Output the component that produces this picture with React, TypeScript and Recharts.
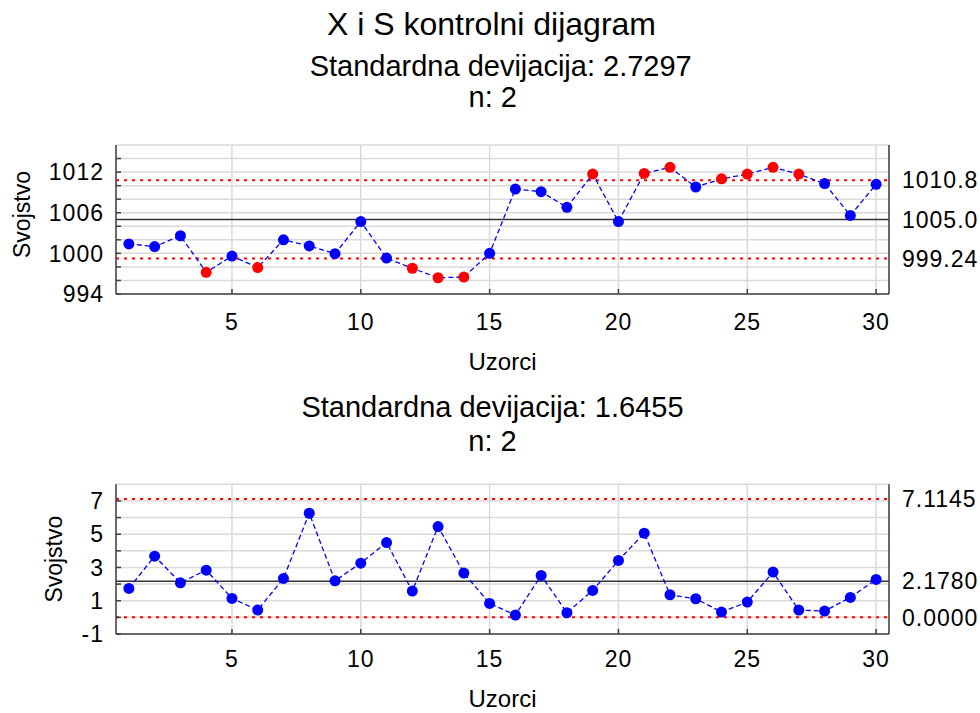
import React from 'react';
import { ComposedChart, Line, XAxis, YAxis, CartesianGrid, ReferenceLine } from 'recharts';

const FONT = '"Liberation Sans", Arial, Helvetica, sans-serif';

// sample numbers on the x axis
const samples = [
  1, 2, 3, 4, 5, 6, 7, 8, 9, 10, 11, 12, 13, 14, 15,
  16, 17, 18, 19, 20, 21, 22, 23, 24, 25, 26, 27, 28, 29, 30,
];

// sample means (X chart)
const xbarValues = [
  1001.4, 1001.0, 1002.6, 997.2, 999.6, 997.9, 1002.0, 1001.1, 999.95, 1004.7,
  999.3, 997.8, 996.4, 996.5, 1000.0, 1009.5, 1009.1, 1006.8, 1011.7, 1004.7,
  1011.8, 1012.7, 1009.8, 1011.0, 1011.7, 1012.7, 1011.7, 1010.3, 1005.6, 1010.2,
];

// sample standard deviations (S chart)
const sValues = [
  1.74, 3.68, 2.08, 2.84, 1.14, 0.44, 2.34, 6.26, 2.2, 3.26,
  4.5, 1.58, 5.46, 2.66, 0.84, 0.14, 2.52, 0.28, 1.62, 3.42,
  5.06, 1.36, 1.12, 0.32, 0.92, 2.72, 0.44, 0.38, 1.2, 2.28,
];

const xbarLimits = { lcl: 999.24, cl: 1005.0, ucl: 1010.8 };
const xbarLimitLabels = { lcl: '999.24', cl: '1005.0', ucl: '1010.8' };
const sLimits = { lcl: 0, cl: 2.178, ucl: 7.1145 };
const sLimitLabels = { lcl: '0.0000', cl: '2.1780', ucl: '7.1145' };

const xTicks = [5, 10, 15, 20, 25, 30];
const xbarGridTicks = [994, 996, 998, 1000, 1002, 1004, 1006, 1008, 1010, 1012, 1014];
const xbarLabelTicks = [994, 1000, 1006, 1012];
const sGridTicks = [-1, 0, 1, 2, 3, 4, 5, 6, 7];
const sLabelTicks = [-1, 1, 3, 5, 7];

const FRAME = { stroke: '#404040', strokeWidth: 1.5 };
const TICK = { fill: '#000', fontSize: 23, style: { letterSpacing: '1px' } };

interface Limits {
  lcl: number;
  cl: number;
  ucl: number;
}

interface LimitLabels {
  lcl: string;
  cl: string;
  ucl: string;
}

interface ControlChartProps {
  values: number[];
  domain: [number, number];
  gridTicks: number[];
  labelTicks: number[];
  limits: Limits;
  limitLabels: LimitLabels;
  height: number;
  top: number;
  xAxisHeight: number;
  xTickMargin: number;
  xLabelOffset: number;
  yLabelOffset: number;
  yLabelDy: number;
}

// value of a control line written just right of the plot frame
const limitLabel = (value: string) => ({
  value,
  position: 'right' as const,
  offset: 13,
  style: { fontSize: 23, fill: '#000', letterSpacing: '1px' },
});

function ControlChart({
  values,
  domain,
  gridTicks,
  labelTicks,
  limits,
  limitLabels,
  height,
  top,
  xAxisHeight,
  xTickMargin,
  xLabelOffset,
  yLabelOffset,
  yLabelDy,
}: ControlChartProps) {
  const data = samples.map((s, i) => ({ sample: s, value: values[i] }));

  // points outside the control limits are drawn red
  const renderDot = (props: any) => {
    const { cx, cy, value, index } = props;
    const out = value > limits.ucl || value < limits.lcl;
    return <circle key={`dot-${index}`} cx={cx} cy={cy} r={5.5} fill={out ? '#ff0000' : '#0000ff'} />;
  };

  return (
    <ComposedChart
      width={980}
      height={height}
      data={data}
      margin={{ top, right: 0, bottom: 0, left: 0 }}
    >
      <CartesianGrid stroke="#dadada" strokeWidth={1.5} />

      <XAxis
        dataKey="sample"
        type="number"
        domain={[0.5, 30.5]}
        ticks={xTicks}
        interval={0}
        height={xAxisHeight}
        tick={TICK}
        tickSize={-5}
        tickMargin={xTickMargin}
        tickLine={FRAME}
        axisLine={FRAME}
        label={{
          value: 'Uzorci',
          position: 'insideBottom',
          offset: xLabelOffset,
          style: { fontSize: 24, fill: '#000' },
        }}
      />
      <XAxis
        xAxisId="top"
        orientation="top"
        type="number"
        domain={[0.5, 30.5]}
        ticks={xTicks}
        interval={0}
        height={0}
        tickFormatter={() => ''}
        tickSize={-5}
        tickLine={FRAME}
        axisLine={FRAME}
      />
      <YAxis
        type="number"
        domain={domain}
        ticks={gridTicks}
        interval={0}
        width={116}
        tick={TICK}
        tickFormatter={(v: number) => (labelTicks.includes(v) ? String(v) : '')}
        tickSize={-5}
        tickMargin={17}
        tickLine={FRAME}
        axisLine={FRAME}
        label={{
          value: 'Svojstvo',
          angle: -90,
          position: 'insideLeft',
          offset: yLabelOffset,
          dy: yLabelDy,
          style: { textAnchor: 'middle', fontSize: 23, fill: '#000' },
        }}
      />
      <YAxis
        yAxisId="right"
        orientation="right"
        type="number"
        domain={domain}
        width={91}
        tick={false}
        tickLine={false}
        axisLine={FRAME}
      />

      <ReferenceLine
        y={limits.ucl}
        stroke="#ff0000"
        strokeWidth={2}
        strokeDasharray="3 5"
        label={limitLabel(limitLabels.ucl)}
      />
      <ReferenceLine
        y={limits.lcl}
        stroke="#ff0000"
        strokeWidth={2}
        strokeDasharray="3 5"
        label={limitLabel(limitLabels.lcl)}
      />
      <ReferenceLine
        y={limits.cl}
        stroke="#333333"
        strokeWidth={1.5}
        label={limitLabel(limitLabels.cl)}
      />

      <Line
        dataKey="value"
        stroke="#0000ff"
        strokeWidth={1.3}
        strokeDasharray="5 3"
        dot={renderDot}
        activeDot={false}
        isAnimationActive={false}
      />
    </ComposedChart>
  );
}

function Caption({ text, cx, top, size }: { text: string; cx: number; top: number; size: number }) {
  return (
    <div
      style={{
        position: 'absolute',
        left: cx,
        top,
        transform: 'translateX(-50%)',
        whiteSpace: 'nowrap',
        fontSize: size,
        lineHeight: `${size}px`,
        color: '#000',
      }}
    >
      {text}
    </div>
  );
}

export default function App() {
  return (
    <div
      style={{
        position: 'absolute',
        left: 0,
        top: 0,
        width: 980,
        height: 713,
        background: '#fff',
        fontFamily: FONT,
        overflow: 'hidden',
      }}
    >
      <Caption text="X i S kontrolni dijagram" cx={491.5} top={7.9} size={32} />
      <Caption text="Standardna devijacija: 2.7297" cx={500.7} top={52.4} size={29} />
      <Caption text="n: 2" cx={492.7} top={82.7} size={29} />
      <Caption text="Standardna devijacija: 1.6455" cx={492.5} top={392.8} size={29} />
      <Caption text="n: 2" cx={492.5} top={427} size={29} />

      <div style={{ position: 'absolute', left: 0, top: 0 }}>
        <ControlChart
          values={xbarValues}
          domain={[994, 1016]}
          gridTicks={xbarGridTicks}
          labelTicks={xbarLabelTicks}
          limits={xbarLimits}
          limitLabels={xbarLimitLabels}
          height={380}
          top={145}
          xAxisHeight={86}
          xTickMargin={25}
          xLabelOffset={10}
          yLabelOffset={22}
          yLabelDy={-5}
        />
      </div>
      <div style={{ position: 'absolute', left: 0, top: 400 }}>
        <ControlChart
          values={sValues}
          domain={[-1, 8]}
          gridTicks={sGridTicks}
          labelTicks={sLabelTicks}
          limits={sLimits}
          limitLabels={sLimitLabels}
          height={313}
          top={84.3}
          xAxisHeight={79}
          xTickMargin={21.7}
          xLabelOffset={5.7}
          yLabelOffset={54}
          yLabelDy={0}
        />
      </div>
    </div>
  );
}
